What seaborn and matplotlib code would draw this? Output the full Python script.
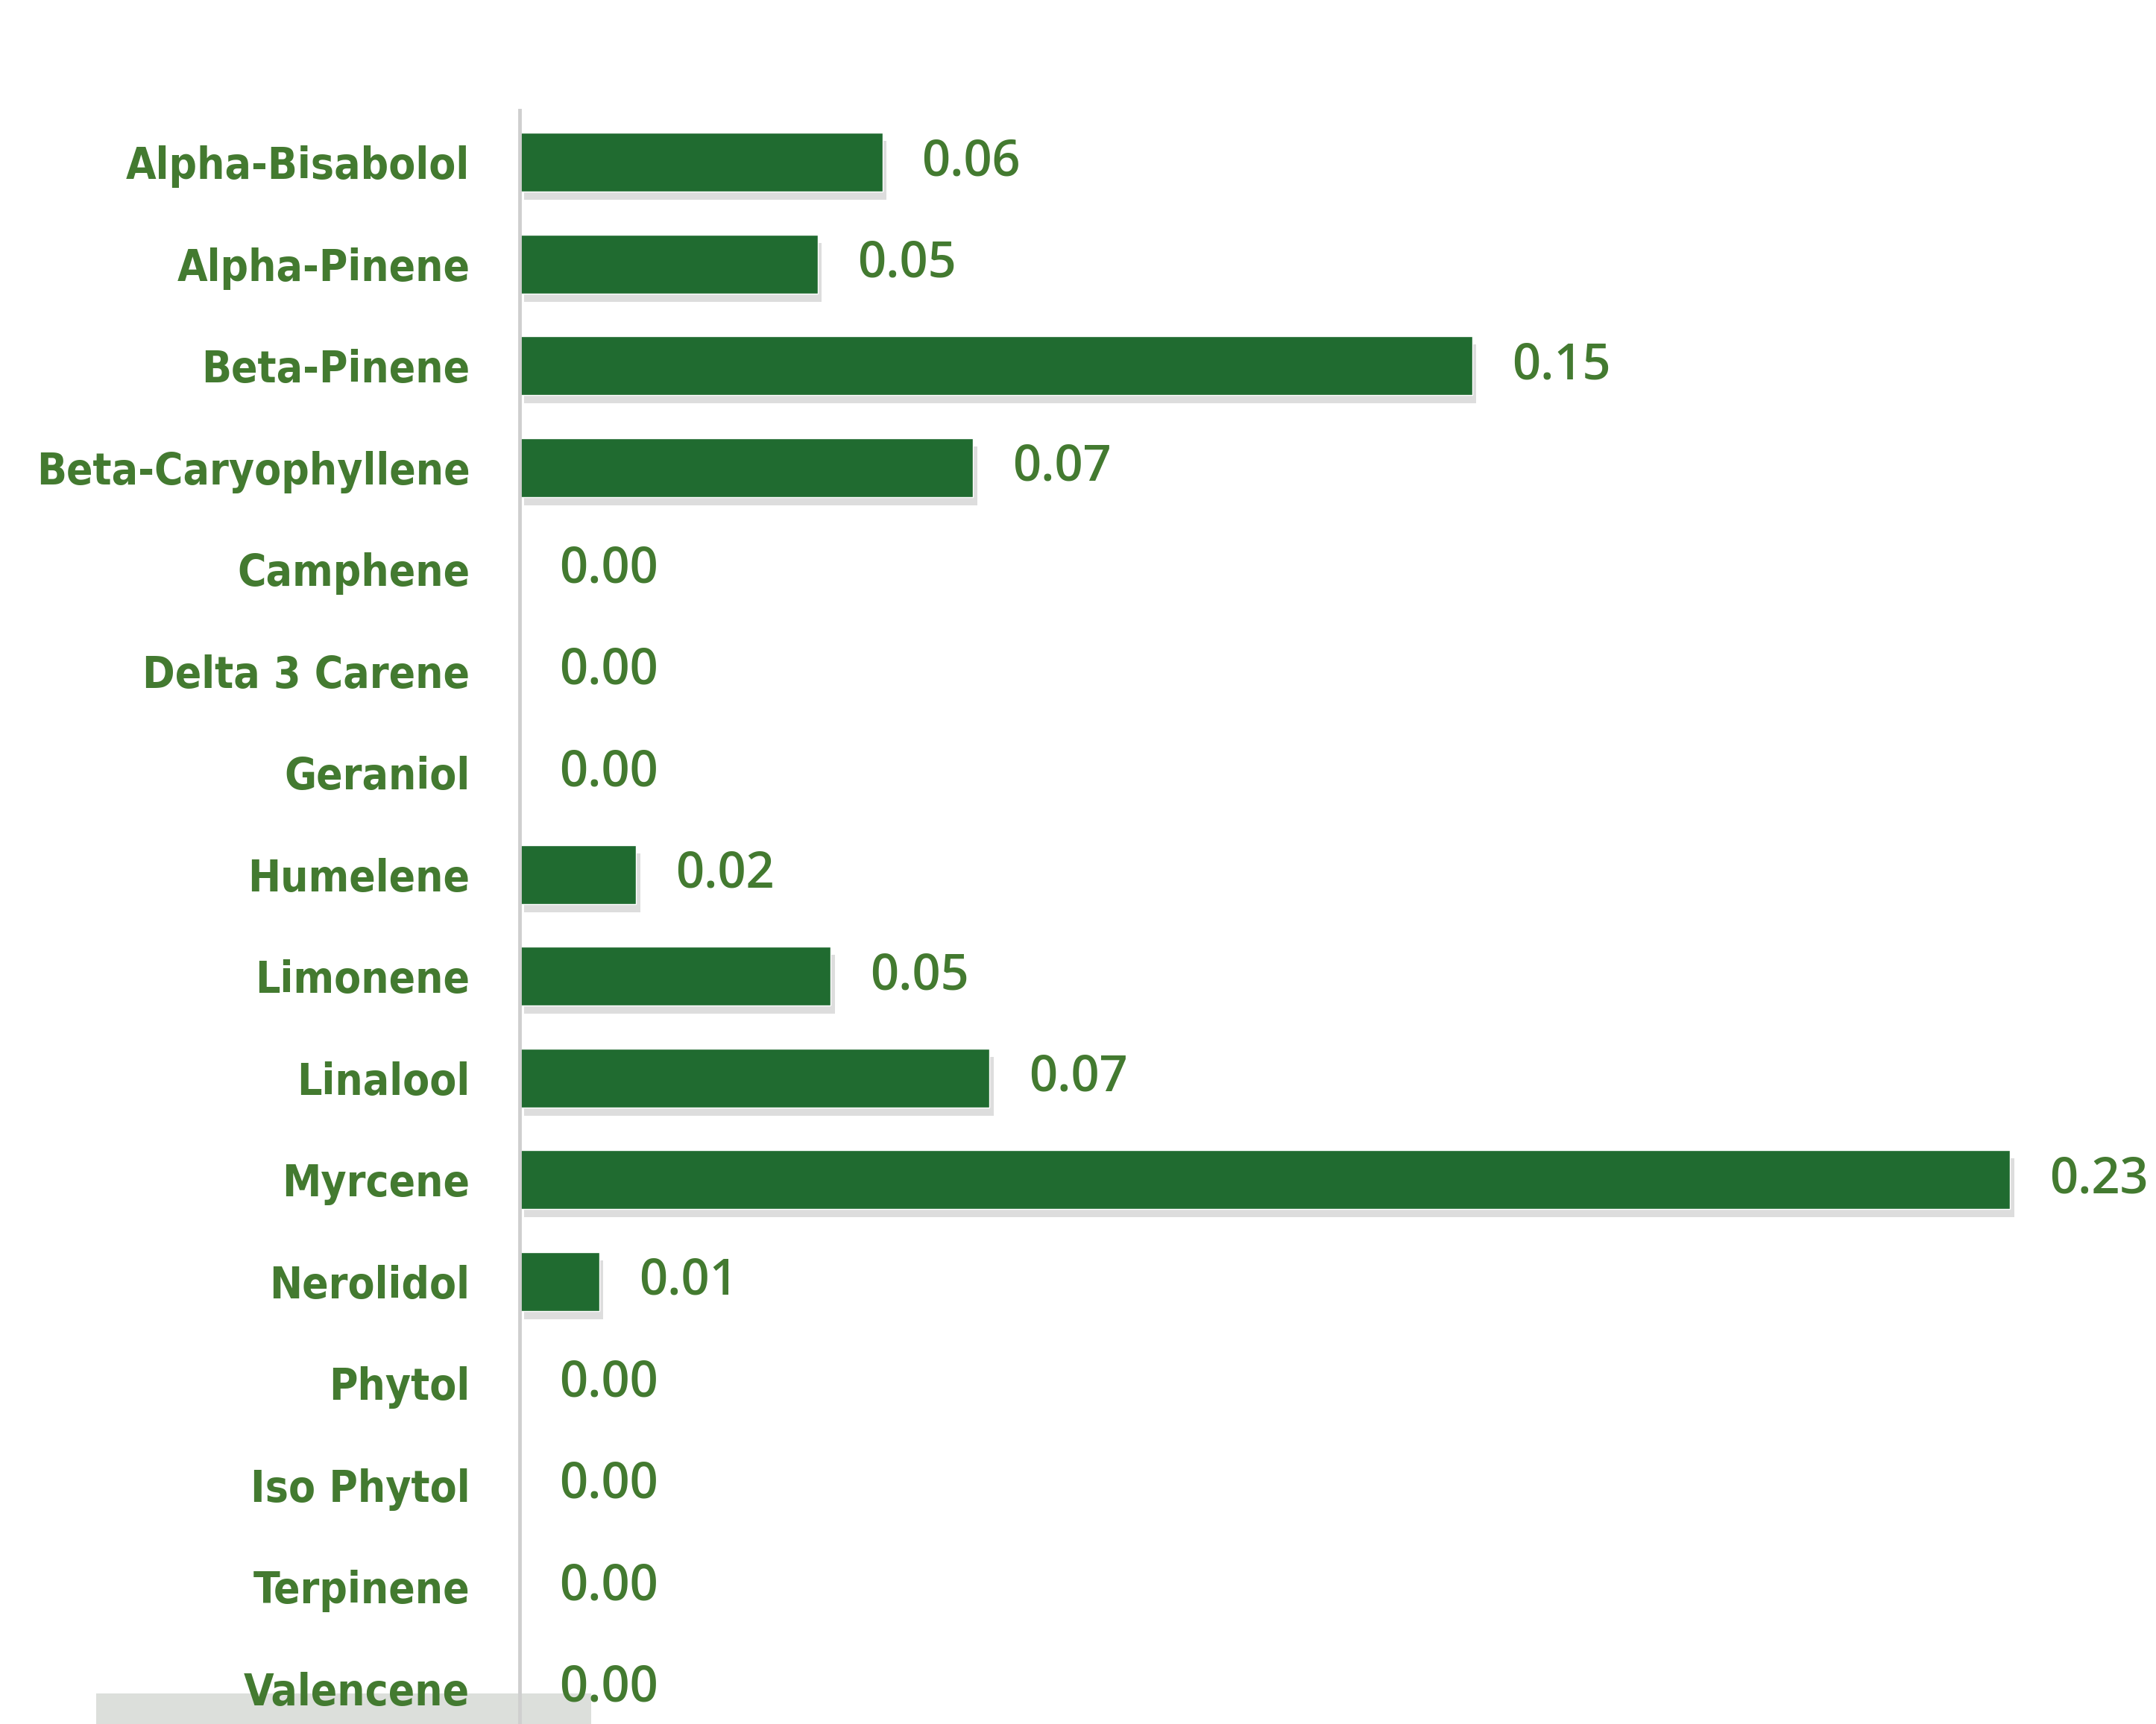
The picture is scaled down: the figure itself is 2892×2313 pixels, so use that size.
import matplotlib
matplotlib.use("Agg")
import matplotlib.pyplot as plt
import matplotlib.patheffects as pe
from matplotlib.patches import Rectangle
import seaborn as sns
import pandas as pd

categories = ["Alpha-Bisabolol", "Alpha-Pinene", "Beta-Pinene", "Beta-Caryophyllene",
              "Camphene", "Delta 3 Carene", "Geraniol", "Humelene", "Limonene",
              "Linalool", "Myrcene", "Nerolidol", "Phytol", "Iso Phytol",
              "Terpinene", "Valencene"]
values = [0.056, 0.046, 0.147, 0.070, 0.0, 0.0, 0.0, 0.018, 0.048,
          0.0725, 0.23, 0.0123, 0.0, 0.0, 0.0, 0.0]

BAR = "#206b30"
TXT = "#437a30"

sns.set_theme(style="white")
df = pd.DataFrame({"name": categories, "value": values})

fig = plt.figure(figsize=(28.92, 23.13), dpi=100)
ax = fig.add_axes([0.241, 0.0, 0.759, 0.936])
ax.patch.set_alpha(0)
sns.barplot(data=df, x="value", y="name", orient="h", color=BAR,
            width=0.58, saturation=1, ax=ax, order=categories)

for p in ax.patches:
    p.set_path_effects([pe.SimplePatchShadow(offset=(4, -8), shadow_rgbFace="#666666", alpha=0.22),
                        pe.Normal()])

for i, v in enumerate(values):
    ax.annotate(f"{v:.2f}", xy=(v, i), xytext=(38, 0), textcoords="offset points",
                va="center", ha="left", fontsize=48, color=TXT,
                family=["Open Sans", "DejaVu Sans"], fontweight="semibold")

ax.set_xlim(0, 0.2525)
ax.set_ylim(15.35, -0.51)
ax.set_xlabel("")
ax.set_ylabel("")
ax.set_xticks([])
ax.tick_params(axis="y", length=0, pad=48)
for lab in ax.get_yticklabels():
    lab.set_fontsize(42)
    lab.set_color(TXT)
    lab.set_fontweight("bold")
    lab.set_fontstretch("condensed")
    lab.set_family(["DejaVu Sans"])

for s in ["top", "right", "bottom"]:
    ax.spines[s].set_visible(False)
ax.spines["left"].set_color("#cfcfcf")
ax.spines["left"].set_linewidth(3.5)

fig.patches.append(Rectangle((70 / 1568, 0), 360 / 1568, 22 / 1254, transform=fig.transFigure,
                             facecolor="#dcdfdb", edgecolor="none", zorder=-1))

fig.savefig("out.png", dpi=100, facecolor="white")
